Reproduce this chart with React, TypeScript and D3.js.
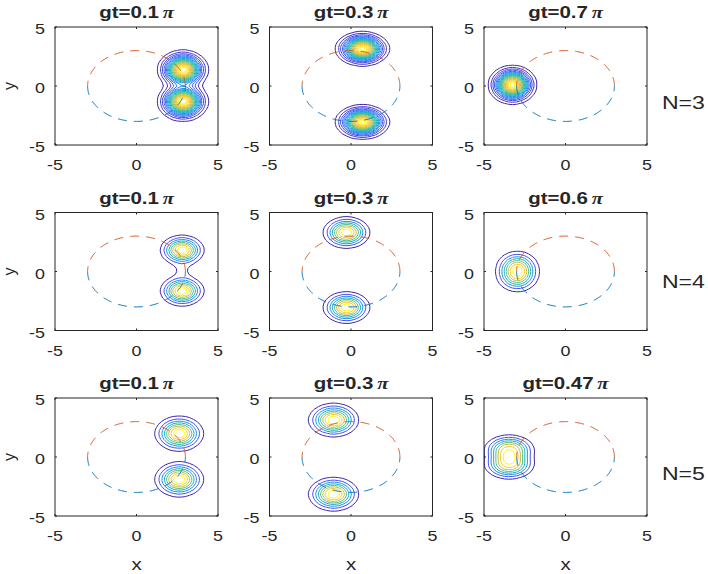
import React from "react";
import * as d3 from "d3";

const W = 708;
const H = 574;

// subplot layout (pixels)
const colLefts = [55, 269.5, 484];
const rowTops = [27, 212.5, 398];
const panelW = 163;
const panelH = 118;
const nLabelOffsets = [16, 10, 16.5];
const textStretch = 1.28;

// axes
const xDomain = [-5, 5];
const yDomain = [-5, 5];
const xTicks = [-5, 0, 5];
const yTicks = [-5, 0, 5];

// panel annotations
const nValues = [3, 4, 5];
const gtValues = [
  [0.1, 0.3, 0.7],
  [0.1, 0.3, 0.6],
  [0.1, 0.3, 0.47],
];
const levelCounts = [20, 8, 8];

// reference orbit
const orbitRadius = 3;

// density components per panel (row-major): [x, y, sx, sy, amplitude]
const peakComponents: number[][][] = [
  [[2.85, 1.38, 0.89, 0.96, 1], [2.85, -1.32, 0.89, 0.96, 1]],
  [[0.7, 3.15, 0.95, 0.84, 1], [0.7, -3.05, 0.95, 0.84, 1]],
  [[-3.25, 0.1, 0.85, 0.95, 1]],
  [[2.8, 1.8, 0.9, 0.86, 1], [2.8, -1.65, 0.9, 0.86, 1], [2.8, 0.08, 0.7, 0.6, 0.1]],
  [[-0.28, 3.3, 0.96, 0.9, 1], [-0.28, -3.05, 0.96, 0.9, 1]],
  [[-2.95, 0.45, 0.9, 0.95, 1], [-2.95, -0.45, 0.9, 0.95, 1]],
  [[2.62, 1.98, 1.0, 1.0, 1], [2.62, -1.9, 1.0, 1.0, 1]],
  [[-1.07, 3.13, 1.03, 0.96, 1], [-1.07, -3.15, 1.03, 0.96, 1]],
  [[-3.45, 0.65, 1.12, 0.9, 1], [-3.45, -0.65, 1.12, 0.9, 1]],
];
// profile exponent per panel
const peakShapes = [2, 2, 2, 2, 2, 2, 2, 2, 2.3];

const parulaStops = [
  "#3e26a8", "#4747eb", "#2f79fb", "#1c9ee0", "#0fb8c0",
  "#48c38f", "#a6c25a", "#eab93c", "#fcd22f", "#f9fb15",
];
const parula = d3.piecewise(d3.interpolateRgb, parulaStops);

const upperColor = "#D95319";
const lowerColor = "#0072BD";
const axisColor = "#262626";
const fontFamily = "'Liberation Sans', Arial, Helvetica, sans-serif";

const gridStep = 0.25;
const gridN = Math.round((xDomain[1] - xDomain[0]) / gridStep) + 1;

function densityGrid(i: number): number[] {
  const comps = peakComponents[i];
  const p = peakShapes[i];
  const values = new Array(gridN * gridN);
  for (let j = 0; j < gridN; j++) {
    const y = yDomain[0] + j * gridStep;
    for (let k = 0; k < gridN; k++) {
      const x = xDomain[0] + k * gridStep;
      let v = 0;
      for (const [cx, cy, sx, sy, a] of comps) {
        const rho = Math.hypot((x - cx) / sx, (y - cy) / sy);
        v += a * Math.exp(-Math.pow(rho, p));
      }
      values[j * gridN + k] = v;
    }
  }
  return values;
}

function SText(props: any) {
  const { x, y, rotate, stretch = textStretch, children, ...rest } = props;
  const t = `translate(${x},${y}) scale(${stretch},1)` + (rotate ? ` rotate(${rotate})` : "");
  return (
    <text transform={t} fill={axisColor} fontFamily={fontFamily} {...rest}>
      {children}
    </text>
  );
}

function Panel({ row, col }: { row: number; col: number }) {
  const idx = row * 3 + col;
  const x0 = colLefts[col];
  const y0 = rowTops[row];
  const xs = d3.scaleLinear().domain(xDomain).range([x0, x0 + panelW]);
  const ys = d3.scaleLinear().domain(yDomain).range([y0 + panelH, y0]);

  const values = densityGrid(idx);
  const zmin = d3.min(values) as number;
  const zmax = d3.max(values) as number;
  const n = levelCounts[row];
  const thresholds = d3.range(1, n + 1).map((k) => zmin + (k * (zmax - zmin)) / (n + 1));
  const contours = d3.contours().size([gridN, gridN]).thresholds(thresholds)(values);
  const proj = d3.geoTransform({
    point(gx: number, gy: number) {
      (this as any).stream.point(
        xs(xDomain[0] + (gx - 0.5) * gridStep),
        ys(yDomain[0] + (gy - 0.5) * gridStep)
      );
    },
  });
  const geo = d3.geoPath(proj);

  const line = d3
    .line<number>()
    .x((a) => xs(orbitRadius * Math.cos(a)))
    .y((a) => ys(orbitRadius * Math.sin(a)));
  const upper = d3.range(0, 181).map((d) => (d * Math.PI) / 180);
  const lower = d3.range(180, 361).map((d) => (d * Math.PI) / 180);

  const clipId = `clip-${idx}`;
  const tickLen = 2;

  return (
    <g>
      <defs>
        <clipPath id={clipId}>
          <rect x={x0} y={y0} width={panelW} height={panelH} />
        </clipPath>
      </defs>
      <g clipPath={`url(#${clipId})`}>
        {contours.map((c, k) => (
          <path
            key={k}
            d={geo(c as any) || ""}
            fill="none"
            stroke={parula(n === 1 ? 0 : k / (n - 1))}
            strokeWidth={1}
          />
        ))}
        <path d={line(upper) || ""} fill="none" stroke={upperColor} strokeWidth={1} strokeDasharray="9,7" />
        <path d={line(lower) || ""} fill="none" stroke={lowerColor} strokeWidth={1} strokeDasharray="9,7" />
      </g>
      <rect x={x0} y={y0} width={panelW} height={panelH} fill="none" stroke={axisColor} strokeWidth={1} />
      {xTicks.map((t) => (
        <g key={`xt${t}`}>
          <line x1={xs(t)} x2={xs(t)} y1={y0 + panelH} y2={y0 + panelH - tickLen} stroke={axisColor} />
          <line x1={xs(t)} x2={xs(t)} y1={y0} y2={y0 + tickLen} stroke={axisColor} />
          <SText x={xs(t)} y={y0 + panelH + 25} textAnchor="middle" fontSize={14}>
            {t < 0 ? `-${Math.abs(t)}` : `${t}`}
          </SText>
        </g>
      ))}
      {yTicks.map((t) => (
        <g key={`yt${t}`}>
          <line x1={x0} x2={x0 + tickLen} y1={ys(t)} y2={ys(t)} stroke={axisColor} />
          <line x1={x0 + panelW} x2={x0 + panelW - tickLen} y1={ys(t)} y2={ys(t)} stroke={axisColor} />
          <SText x={x0 - 10} y={ys(t) + 7} textAnchor="end" fontSize={14}>
            {t < 0 ? `-${Math.abs(t)}` : `${t}`}
          </SText>
        </g>
      ))}
      <SText x={x0 + panelW / 2} y={y0 - 9} textAnchor="middle" fontSize={16} fontWeight="bold">
        {`gt=${gtValues[row][col]}`}
        <tspan dx={3} fontFamily="'Liberation Serif', 'DejaVu Serif', serif" fontStyle="italic">
          π
        </tspan>
      </SText>
      {col === 0 && (
        <SText x={14.5} y={y0 + panelH / 2} rotate={-90} stretch={1} textAnchor="middle" fontSize={16}>
          y
        </SText>
      )}
      {row === 2 && (
        <SText x={x0 + panelW / 2} y={570} textAnchor="middle" fontSize={16}>
          x
        </SText>
      )}
    </g>
  );
}

export default function App() {
  const cells: { row: number; col: number }[] = [];
  for (let r = 0; r < 3; r++) for (let c = 0; c < 3; c++) cells.push({ row: r, col: c });
  return (
    <svg
      width={W}
      height={H}
      style={{ position: "absolute", left: 0, top: 0, background: "#fff" }}
    >
      <rect width={W} height={H} fill="#fff" />
      {cells.map((c) => (
        <Panel key={`${c.row}-${c.col}`} row={c.row} col={c.col} />
      ))}
      {nValues.map((nv, r) => (
        <SText key={nv} x={662} y={rowTops[r] + panelH / 2 + nLabelOffsets[r] + 6.5} fontSize={18}>
          {`N=${nv}`}
        </SText>
      ))}
    </svg>
  );
}
